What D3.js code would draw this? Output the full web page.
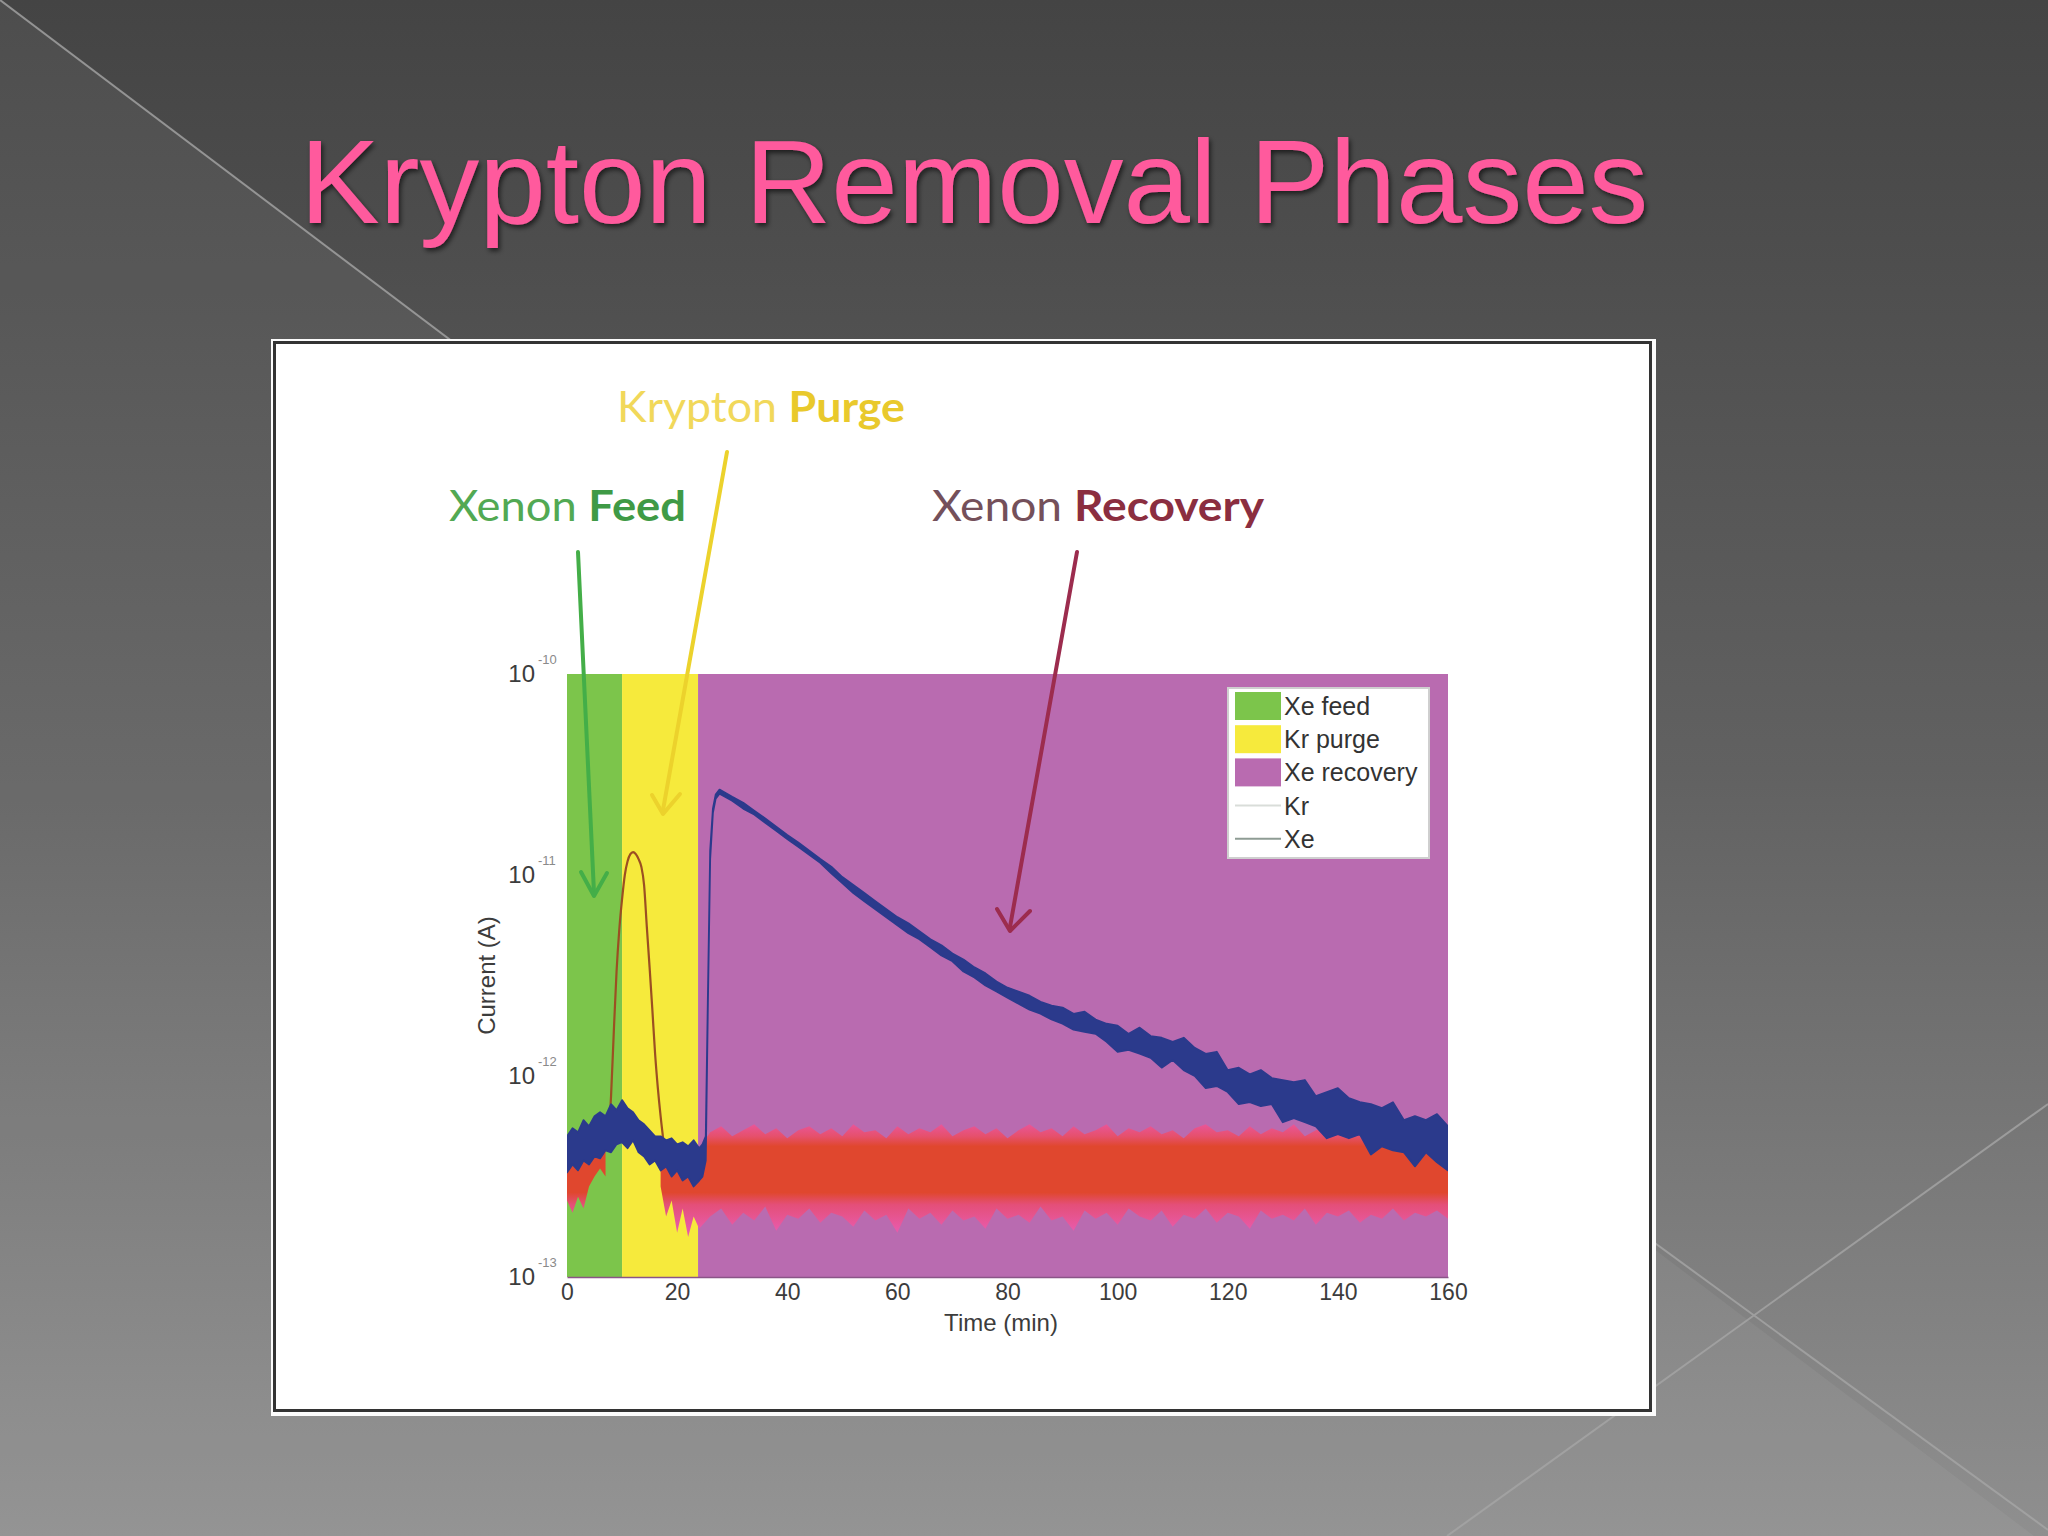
<!DOCTYPE html>
<html>
<head>
<meta charset="utf-8">
<script src="https://cdn.jsdelivr.net/npm/d3@7"></script>
<style>
  html, body { margin: 0; padding: 0; background: #555; }
  svg { display: block; }
</style>
</head>
<body>
<div id="slide"></div>
<script>
// run phases (minutes)
const phaseNames = ["Xe feed", "Kr purge", "Xe recovery"];
const phaseStart = [0, 10, 23.8];
const phaseEnd = [10, 23.8, 160];

const xTicks = [0, 20, 40, 60, 80, 100, 120, 140, 160];
const yTicks = [1e-10, 1e-11, 1e-12, 1e-13];
const yTickExp = ["-10", "-11", "-12", "-13"];

// Kr current, noisy band (A); null = no baseline during the purge peak
const krTime = [0, 1, 2, 3, 4, 5, 6, 7, 12, 17, 18, 19, 20, 21, 22, 23, 24,
  26, 28, 30, 32, 34, 36, 38, 40, 42, 44, 46, 48, 50, 52, 54, 56, 58, 60, 62, 64, 66, 68, 70, 72, 74, 76, 78, 80,
  82, 84, 86, 88, 90, 92, 94, 96, 98, 100, 102, 104, 106, 108, 110, 112, 114, 116, 118, 120,
  122, 124, 126, 128, 130, 132, 134, 136, 138, 140, 142, 144, 146, 148, 150, 152, 154, 156, 158, 160];
const krLow = [2.40e-13, 2.09e-13, 2.51e-13, 2.19e-13, 2.82e-13, 3.16e-13, 3.47e-13, 3.16e-13, null,
  2.82e-13, 2.00e-13, 2.40e-13, 1.66e-13, 2.19e-13, 1.58e-13, 2.00e-13, 1.74e-13,
  2.00e-13, 2.19e-13, 1.82e-13, 2.09e-13, 1.91e-13, 2.24e-13, 1.70e-13, 2.04e-13, 1.95e-13, 2.19e-13,
  1.86e-13, 2.09e-13, 2.00e-13, 1.78e-13, 2.14e-13, 1.91e-13, 2.04e-13, 1.66e-13, 2.19e-13, 1.95e-13,
  2.09e-13, 1.82e-13, 2.14e-13, 1.91e-13, 2.00e-13, 1.74e-13, 2.19e-13, 1.95e-13, 2.04e-13, 1.86e-13,
  2.24e-13, 1.91e-13, 2.00e-13, 1.70e-13, 2.14e-13, 1.95e-13, 2.09e-13, 1.82e-13, 2.19e-13, 2.00e-13,
  1.91e-13, 2.14e-13, 1.78e-13, 2.04e-13, 1.95e-13, 2.19e-13, 1.86e-13, 2.09e-13, 2.00e-13, 1.74e-13,
  2.14e-13, 1.95e-13, 2.04e-13, 1.91e-13, 2.19e-13, 1.82e-13, 2.09e-13, 2.00e-13, 2.14e-13, 1.86e-13,
  2.04e-13, 1.95e-13, 2.19e-13, 1.91e-13, 2.09e-13, 2.00e-13, 2.14e-13, 1.95e-13];
const krHigh = [3.98e-13, 3.80e-13, 4.17e-13, 3.98e-13, 4.37e-13, 4.57e-13, 5.01e-13, 4.79e-13, null,
  5.01e-13, 4.17e-13, 3.98e-13, 3.80e-13, 3.98e-13, 3.63e-13, 3.80e-13, 4.37e-13,
  5.25e-13, 5.62e-13, 5.01e-13, 5.37e-13, 5.75e-13, 5.13e-13, 5.50e-13, 4.90e-13, 5.37e-13, 5.62e-13,
  5.13e-13, 5.50e-13, 5.01e-13, 5.75e-13, 5.25e-13, 5.37e-13, 4.90e-13, 5.62e-13, 5.13e-13, 5.50e-13,
  5.25e-13, 5.75e-13, 5.01e-13, 5.37e-13, 5.62e-13, 5.13e-13, 5.50e-13, 4.90e-13, 5.37e-13, 5.75e-13,
  5.25e-13, 5.50e-13, 5.01e-13, 5.62e-13, 5.13e-13, 5.37e-13, 5.75e-13, 5.01e-13, 5.50e-13, 5.25e-13,
  5.62e-13, 5.13e-13, 5.37e-13, 4.90e-13, 5.50e-13, 5.75e-13, 5.25e-13, 5.37e-13, 5.01e-13, 5.62e-13,
  5.13e-13, 5.50e-13, 5.25e-13, 5.75e-13, 5.01e-13, 5.37e-13, 5.62e-13, 5.13e-13, 5.50e-13, 5.25e-13,
  5.62e-13, 5.01e-13, 5.37e-13, 5.75e-13, 5.13e-13, 5.50e-13, 5.25e-13, 5.37e-13];

// Kr during the purge peak (A)
const krPeakTime = [7.5, 8, 8.5, 9, 9.5, 10, 10.5, 11, 11.5, 12, 12.5, 13, 13.5, 14, 14.5, 15, 15.5, 16, 16.5, 17, 17.5];
const krPeak = [4.47e-13, 7.94e-13, 1.66e-12, 3.31e-12, 5.37e-12, 7.59e-12, 1.00e-11, 1.17e-11, 1.27e-11, 1.30e-11,
  1.27e-11, 1.20e-11, 1.10e-11, 8.91e-12, 5.50e-12, 3.47e-12, 2.14e-12, 1.29e-12, 8.71e-13, 6.31e-13, 4.79e-13];

// Xe current, noisy band (A)
const xeTime = [0, 1, 2, 3, 4, 5, 6, 7, 8, 9, 10, 11, 12, 13, 14, 15, 16, 17, 18, 19, 20, 21, 22, 23, 24,
  24.6, 25.2, 25.6, 26, 26.5, 27, 27.7,
  30, 32, 34, 36, 38, 40, 42, 44, 46, 48, 50, 52, 54, 56, 58, 60, 62, 64, 66, 68, 70, 72, 74, 76, 78, 80,
  82, 84, 86, 88, 90, 92, 94, 96, 98, 100, 102, 104, 106, 108, 110, 112, 114, 116, 118, 120,
  122, 124, 126, 128, 130, 132, 134, 136, 138, 140, 142, 144, 146, 148, 150, 152, 154, 156, 158, 160];
const xeLow = [3.31e-13, 3.63e-13, 3.39e-13, 3.80e-13, 3.63e-13, 3.98e-13, 3.89e-13, 4.27e-13, 4.17e-13, 4.57e-13,
  4.68e-13, 4.37e-13, 4.79e-13, 4.17e-13, 3.98e-13, 3.63e-13, 3.80e-13, 3.39e-13, 3.55e-13, 3.16e-13,
  3.39e-13, 3.02e-13, 3.16e-13, 2.82e-13, 3.02e-13,
  3.16e-13, 3.80e-13, 2.40e-12, 1.20e-11, 2.04e-11, 2.40e-11, 2.54e-11,
  2.34e-11, 2.14e-11, 2.00e-11, 1.82e-11, 1.66e-11, 1.51e-11, 1.38e-11, 1.26e-11, 1.15e-11, 1.02e-11,
  9.12e-12, 8.13e-12, 7.41e-12, 6.76e-12, 6.17e-12, 5.62e-12, 5.13e-12, 4.79e-12, 4.37e-12, 3.98e-12,
  3.72e-12, 3.31e-12, 3.09e-12, 2.82e-12, 2.63e-12, 2.45e-12, 2.29e-12, 2.14e-12, 2.04e-12, 1.91e-12,
  1.82e-12, 1.70e-12, 1.66e-12, 1.62e-12, 1.48e-12, 1.32e-12, 1.35e-12, 1.29e-12, 1.23e-12, 1.10e-12,
  1.20e-12, 1.07e-12, 1.00e-12, 8.71e-13, 8.91e-13, 8.32e-13, 7.24e-13, 7.41e-13, 7.08e-13, 7.24e-13,
  5.89e-13, 6.17e-13, 5.89e-13, 5.62e-13, 4.90e-13, 5.13e-13, 4.90e-13, 5.13e-13, 4.07e-13, 4.47e-13,
  4.27e-13, 4.17e-13, 3.55e-13, 4.17e-13, 3.72e-13, 3.39e-13];
const xeHigh = [5.01e-13, 5.50e-13, 5.25e-13, 6.03e-13, 5.62e-13, 6.31e-13, 6.61e-13, 6.31e-13, 7.24e-13, 6.76e-13,
  7.59e-13, 6.92e-13, 6.61e-13, 6.03e-13, 5.75e-13, 5.37e-13, 5.01e-13, 5.01e-13, 4.79e-13, 4.90e-13,
  4.57e-13, 4.68e-13, 4.47e-13, 4.79e-13, 4.37e-13,
  4.57e-13, 5.01e-13, 2.63e-12, 1.32e-11, 2.14e-11, 2.51e-11, 2.66e-11,
  2.45e-11, 2.29e-11, 2.09e-11, 1.91e-11, 1.74e-11, 1.58e-11, 1.45e-11, 1.32e-11, 1.20e-11, 1.10e-11,
  9.77e-12, 8.91e-12, 8.13e-12, 7.41e-12, 6.76e-12, 6.17e-12, 5.75e-12, 5.25e-12, 4.79e-12, 4.47e-12,
  4.07e-12, 3.80e-12, 3.47e-12, 3.24e-12, 2.95e-12, 2.75e-12, 2.63e-12, 2.51e-12, 2.34e-12, 2.24e-12,
  2.19e-12, 2.04e-12, 2.09e-12, 1.91e-12, 1.82e-12, 1.78e-12, 1.62e-12, 1.74e-12, 1.58e-12, 1.55e-12,
  1.48e-12, 1.55e-12, 1.38e-12, 1.29e-12, 1.32e-12, 1.07e-12, 1.10e-12, 1.02e-12, 1.07e-12, 9.77e-13,
  9.55e-13, 9.33e-13, 9.55e-13, 7.94e-13, 8.32e-13, 8.71e-13, 7.76e-13, 7.41e-13, 7.24e-13, 6.92e-13,
  7.41e-13, 6.03e-13, 6.31e-13, 6.03e-13, 6.46e-13, 5.62e-13];

const W = 2048, H = 1536;
const plot = {left: 567, right: 1448, top: 674, bottom: 1277};
const phaseColors = ["#7cc54b", "#f6ea3c", "#b96bb0"];

const svg = d3.select("#slide").append("svg")
  .attr("width", W).attr("height", H)
  .attr("viewBox", `0 0 ${W} ${H}`);
const defs = svg.append("defs");

// slide background
const bg = defs.append("linearGradient").attr("id", "bgGrad")
  .attr("x1", 0).attr("y1", 0).attr("x2", 0).attr("y2", 1);
bg.append("stop").attr("offset", 0).attr("stop-color", "#444444");
bg.append("stop").attr("offset", 0.5).attr("stop-color", "#616161");
bg.append("stop").attr("offset", 1).attr("stop-color", "#8f8f8f");
svg.append("rect").attr("width", W).attr("height", H).attr("fill", "url(#bgGrad)");
svg.append("path").attr("d", "M0,0 L2034,1536 L0,1536 Z").attr("fill", "#fff").attr("opacity", 0.05);
svg.append("g").attr("stroke", "#a6a6a6").attr("stroke-width", 2).attr("opacity", 0.8)
  .selectAll("line")
  .data([[0, 0, 1000, 755], [2048, 1104, 1447, 1536], [1600, 1203, 2048, 1530]])
  .join("line")
  .attr("x1", d => d[0]).attr("y1", d => d[1]).attr("x2", d => d[2]).attr("y2", d => d[3]);

// title
const shadow = defs.append("filter").attr("id", "shadow").attr("x", "-5%").attr("y", "-20%")
  .attr("width", "110%").attr("height", "140%");
shadow.append("feDropShadow").attr("dx", 2).attr("dy", 3).attr("stdDeviation", 2.5)
  .attr("flood-color", "#000").attr("flood-opacity", 0.6);
svg.append("text")
  .attr("x", 300).attr("y", 223)
  .attr("font-family", "Liberation Sans, Arial, sans-serif")
  .attr("font-size", 119.5)
  .attr("fill", "#ff5a9d")
  .attr("filter", "url(#shadow)")
  .text("Krypton Removal Phases");

// white figure panel
svg.append("rect").attr("x", 271).attr("y", 339).attr("width", 1385).attr("height", 1077)
  .attr("fill", "#fbfbfb");
svg.append("rect").attr("x", 274.5).attr("y", 342.5).attr("width", 1376).attr("height", 1068)
  .attr("fill", "#fff").attr("stroke", "#333").attr("stroke-width", 3);

// scales
const x = d3.scaleLinear().domain([0, 160]).range([plot.left, plot.right]);
const y = d3.scaleLog().domain([1e-13, 1e-10]).range([plot.bottom, plot.top]);

defs.append("clipPath").attr("id", "plotClip").append("rect")
  .attr("x", plot.left).attr("y", plot.top)
  .attr("width", plot.right - plot.left).attr("height", plot.bottom - plot.top);

const g = svg.append("g").attr("clip-path", "url(#plotClip)");

// phase patches
g.selectAll("rect.phase")
  .data(phaseNames)
  .join("rect")
  .attr("class", "phase")
  .attr("x", (d, i) => x(phaseStart[i]))
  .attr("width", (d, i) => x(phaseEnd[i]) - x(phaseStart[i]))
  .attr("y", y(1e-10))
  .attr("height", y(1e-13) - y(1e-10))
  .attr("fill", (d, i) => phaseColors[i]);

// Kr band, red core with pink fringe
const krY1 = y(Math.pow(10, -12.22)), krY2 = y(Math.pow(10, -12.76));
const krGrad = defs.append("linearGradient").attr("id", "krGrad")
  .attr("gradientUnits", "userSpaceOnUse")
  .attr("x1", 0).attr("x2", 0).attr("y1", krY1).attr("y2", krY2);
[[-12.22, "#ea58a8"], [-12.30, "#e6506c"], [-12.35, "#e0472e"], [-12.58, "#e0472e"],
 [-12.64, "#e44f78"], [-12.76, "#e85aa8"]].forEach(s => {
  krGrad.append("stop")
    .attr("offset", (y(Math.pow(10, s[0])) - krY1) / (krY2 - krY1))
    .attr("stop-color", s[1]);
});

const krData = krTime.map((t, i) => ({t: t, lo: krLow[i], hi: krHigh[i]}));
const band = d3.area()
  .defined(d => d.lo != null && d.hi != null)
  .x(d => x(d.t))
  .y0(d => y(d.lo))
  .y1(d => y(d.hi));
g.append("path").datum(krData)
  .attr("d", band)
  .attr("fill", "url(#krGrad)");

const krPeakData = krPeakTime.map((t, i) => ({t: t, v: krPeak[i]}));
g.append("path").datum(krPeakData)
  .attr("d", d3.line().x(d => x(d.t)).y(d => y(d.v)).curve(d3.curveMonotoneX))
  .attr("fill", "none")
  .attr("stroke", "#9b4f22")
  .attr("stroke-width", 2.2);

// Xe band
const xeData = xeTime.map((t, i) => ({t: t, lo: xeLow[i], hi: xeHigh[i]}));
g.append("path").datum(xeData)
  .attr("d", band)
  .attr("fill", "#2b3a8c")
  .attr("stroke", "#2b3a8c")
  .attr("stroke-width", 1.8)
  .attr("stroke-linejoin", "round");

// axes
const tickFont = "Liberation Sans, Arial, sans-serif";
const xAxis = svg.append("g")
  .attr("transform", `translate(0,${plot.bottom})`)
  .call(d3.axisBottom(x).tickValues(xTicks).tickSize(0).tickPadding(7).tickFormat(d3.format("d")));
xAxis.select(".domain").attr("stroke", "#8a5587").attr("stroke-width", 1.5);
xAxis.selectAll("text").attr("font-family", tickFont).attr("font-size", 23).attr("fill", "#3c3c3c");

const yAxis = svg.append("g")
  .attr("transform", `translate(${plot.left},0)`)
  .call(d3.axisLeft(y).tickValues(yTicks).tickSize(0).tickPadding(32).tickFormat(() => "10"));
yAxis.select(".domain").remove();
yAxis.selectAll("text").attr("font-family", tickFont).attr("font-size", 24).attr("fill", "#3c3c3c");
yAxis.selectAll(".tick").append("text")
  .attr("x", -29).attr("y", -11)
  .attr("font-family", tickFont).attr("font-size", 13).attr("fill", "#8a8a8a")
  .attr("text-anchor", "start")
  .text((d, i) => yTickExp[i]);

svg.append("text")
  .attr("x", 1001).attr("y", 1331)
  .attr("text-anchor", "middle")
  .attr("font-family", tickFont).attr("font-size", 24).attr("fill", "#3c3c3c")
  .text("Time (min)");
svg.append("text")
  .attr("transform", `translate(495,${(plot.top + plot.bottom) / 2}) rotate(-90)`)
  .attr("text-anchor", "middle")
  .attr("font-family", tickFont).attr("font-size", 24).attr("fill", "#3c3c3c")
  .text("Current (A)");

// legend
const legend = svg.append("g").attr("transform", "translate(1228,688)");
legend.append("rect").attr("width", 201).attr("height", 170)
  .attr("fill", "#fff").attr("stroke", "#cfcfcf").attr("stroke-width", 2);
const legendRows = ["Xe feed", "Kr purge", "Xe recovery", "Kr", "Xe"];
const legendLine = {Kr: "#d9ddd9", Xe: "#8e9c94"};
legendRows.forEach((name, i) => {
  const cy = 18 + i * 33.2;
  const pi = phaseNames.indexOf(name);
  if (pi >= 0) {
    legend.append("rect").attr("x", 7).attr("y", cy - 14).attr("width", 46).attr("height", 28)
      .attr("fill", phaseColors[pi]);
  } else {
    legend.append("line").attr("x1", 7).attr("x2", 53).attr("y1", cy).attr("y2", cy)
      .attr("stroke", legendLine[name]).attr("stroke-width", 2);
  }
  legend.append("text").attr("x", 56).attr("y", cy)
    .attr("dominant-baseline", "central")
    .attr("font-family", tickFont).attr("font-size", 25).attr("fill", "#333")
    .text(name);
});

// phase call-outs
const noteFont = "Lato, 'Open Sans', sans-serif";
const notes = [
  {x: 617, y: 422, w: 288, parts: [["Krypton ", "#f1d85a", 400], ["Purge", "#e9c92c", 700]]},
  {x: 449, y: 521, w: 237, parts: [["Xenon ", "#52a953", 400], ["Feed", "#3f9a46", 700]]},
  {x: 932, y: 521, w: 332, parts: [["Xenon ", "#74505a", 400], ["Recovery", "#8b2e40", 700]]}
];
notes.forEach(n => {
  const t = svg.append("text").attr("x", n.x).attr("y", n.y)
    .attr("font-family", noteFont).attr("font-size", 42)
    .attr("textLength", n.w).attr("lengthAdjust", "spacingAndGlyphs");
  n.parts.forEach(p => t.append("tspan").attr("fill", p[1]).attr("font-weight", p[2]).text(p[0]));
});

const arrows = [
  {color: "#44ae48", d: "M578,552 L594,893", head: "M581,872 L594,896 L607,873"},
  {color: "#ecd22c", d: "M727,452 L663,810", head: "M652,795 L663,814 L680,794"},
  {color: "#9c2c4e", d: "M1077,552 L1010,927", head: "M997,909 L1010,931 L1030,911"}
];
svg.append("g").selectAll("g")
  .data(arrows)
  .join("g")
  .each(function (a) {
    const ga = d3.select(this);
    ga.append("path").attr("d", a.d);
    ga.append("path").attr("d", a.head);
  })
  .selectAll("path")
  .attr("fill", "none")
  .attr("stroke", function () { return d3.select(this.parentNode).datum().color; })
  .attr("stroke-width", 4)
  .attr("stroke-linecap", "round")
  .attr("stroke-linejoin", "round");
</script>
</body>
</html>
